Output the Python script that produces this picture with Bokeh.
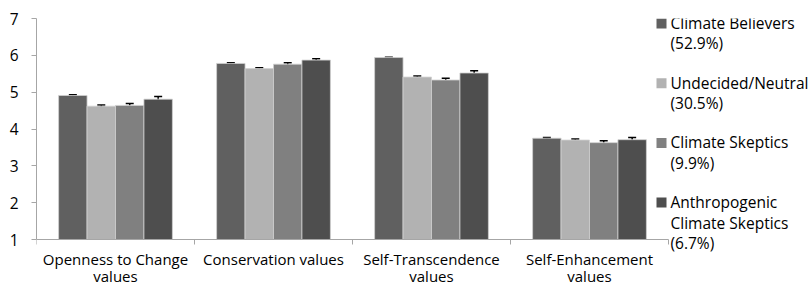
import numpy as np
from bokeh.plotting import figure
from bokeh.models import (ColumnDataSource, Range1d, LinearAxis, FixedTicker,
                          Whisker, TeeHead, LabelSet, BoxAnnotation)
from bokeh.core.properties import value
from bokeh.embed import file_html
from bokeh.resources import INLINE

categories = ["Openness to Change\nvalues", "Conservation values",
              "Self-Transcendence\nvalues", "Self-Enhancement\nvalues"]
series = [["Climate Believers", "(52.9%)"],
          ["Undecided/Neutral", "(30.5%)"],
          ["Climate Skeptics", "(9.9%)"],
          ["Anthropogenic", "Climate Skeptics", "(6.7%)"]]
believers = [4.91, 5.78, 5.94, 3.75]
undecided = [4.62, 5.64, 5.41, 3.70]
skeptics = [4.64, 5.76, 5.33, 3.63]
anthro = [4.81, 5.87, 5.52, 3.71]
believers_err = [0.02, 0.02, 0.01, 0.02]
undecided_err = [0.03, 0.02, 0.03, 0.03]
skeptics_err = [0.05, 0.04, 0.05, 0.05]
anthro_err = [0.07, 0.04, 0.06, 0.06]
y_ticks = [1, 2, 3, 4, 5, 6, 7]

values = [believers, undecided, skeptics, anthro]
errors = [believers_err, undecided_err, skeptics_err, anthro_err]
colors = ["#606060", "#b2b2b2", "#808080", "#4e4e4e"]

FONT = "Open Sans"
FS = "15.5px"
AXIS_COL = "#a6a6a6"

W, H = 812, 286
LEFT, TOP = 36, 18
FRAME_W = W - LEFT
FRAME_H = H - TOP
CAT_AREA_W = 632          # pixel width used by the four categories
VAL_AREA_H = 221          # pixel height used by the value axis 1..7

n = len(categories)
y_lo, y_hi = y_ticks[0], y_ticks[-1]
px_per_unit = VAL_AREA_H / (y_hi - y_lo)
p = figure(width=W, height=H, output_backend="svg", toolbar_location=None,
           x_range=Range1d(0, n * FRAME_W / CAT_AREA_W),
           y_range=Range1d(y_hi - FRAME_H / px_per_unit, y_hi),
           x_axis_location=None, y_axis_location=None,
           min_border_left=LEFT, min_border_top=TOP, min_border_right=0,
           min_border_bottom=0)
p.outline_line_color = None
p.grid.visible = False

centers = [i + 0.5 for i in range(n)]
xaxis = LinearAxis(ticker=FixedTicker(ticks=centers, minor_ticks=list(range(n + 1))),
                   bounds=(0, n), fixed_location=y_lo)
xaxis.major_label_overrides = {c: lab for c, lab in zip(centers, categories)}
xaxis.axis_line_color = AXIS_COL
xaxis.major_tick_line_color = None
xaxis.major_tick_out = 5
xaxis.major_tick_in = 0
xaxis.minor_tick_line_color = AXIS_COL
xaxis.minor_tick_out = 5
xaxis.minor_tick_in = 0
xaxis.major_label_standoff = 4
xaxis.major_label_text_font = FONT
xaxis.major_label_text_font_size = "15px"
xaxis.major_label_text_color = "black"
xaxis.major_label_text_line_height = 0.88
p.add_layout(xaxis, "below")

yaxis = LinearAxis(ticker=FixedTicker(ticks=y_ticks, minor_ticks=[]),
                   bounds=(y_lo, y_hi))
yaxis.axis_line_color = AXIS_COL
yaxis.major_tick_line_color = AXIS_COL
yaxis.major_tick_out = 5
yaxis.major_tick_in = 0
yaxis.minor_tick_line_color = None
yaxis.major_label_standoff = 13
yaxis.major_label_text_font = FONT
yaxis.major_label_text_font_size = FS
yaxis.major_label_text_color = "black"
p.add_layout(yaxis, "left")

offsets = [-0.27, -0.09, 0.09, 0.27]
bar_w = 0.18
for vals, errs, col, off in zip(values, errors, colors, offsets):
    xs = [c + off for c in centers]
    src = ColumnDataSource(dict(x=xs, top=vals,
                                upper=[v + e for v, e in zip(vals, errs)],
                                lower=[v - e for v, e in zip(vals, errs)]))
    p.vbar(x="x", top="top", bottom=y_lo, width=bar_w, source=src,
           fill_color=col, line_color="#d0d0d0", line_width=0.8)
    w = Whisker(base="x", upper="upper", lower="lower", source=src,
                line_color="black", line_width=1.5,
                upper_head=TeeHead(size=8, line_color="black", line_width=1.5),
                lower_head=TeeHead(size=8, line_color="black", line_width=1.5))
    p.add_layout(w)

# legend (drawn manually: swatch aligned with the first line of each label)
SW_X = 620        # swatch left, px from frame left
SW = 10
TXT_X = SW_X + SW + 4
ITEM_STEP = 59.7
LINE_STEP = 20.5
lx, ly, lt = [], [], []
for i, (lines, col) in enumerate(zip(series, colors)):
    top = i * ITEM_STEP
    p.add_layout(BoxAnnotation(left=SW_X, right=SW_X + SW,
                               top=FRAME_H - top, bottom=FRAME_H - top - SW,
                               left_units="screen", right_units="screen",
                               top_units="screen", bottom_units="screen",
                               fill_color=col, fill_alpha=1, line_color=None))
    for j, line in enumerate(lines):
        lx.append(TXT_X)
        ly.append(FRAME_H - (top + 4.4 + j * LINE_STEP))
        lt.append(line)
lsrc = ColumnDataSource(dict(x=lx, y=ly, text=lt))
p.add_layout(LabelSet(x="x", y="y", text="text", source=lsrc,
                      x_units="screen", y_units="screen",
                      text_font=value(FONT), text_font_size=value(FS),
                      text_color="black",
                      text_baseline="middle", text_align="left"))

open("out.html", "w").write(file_html(p, INLINE))
